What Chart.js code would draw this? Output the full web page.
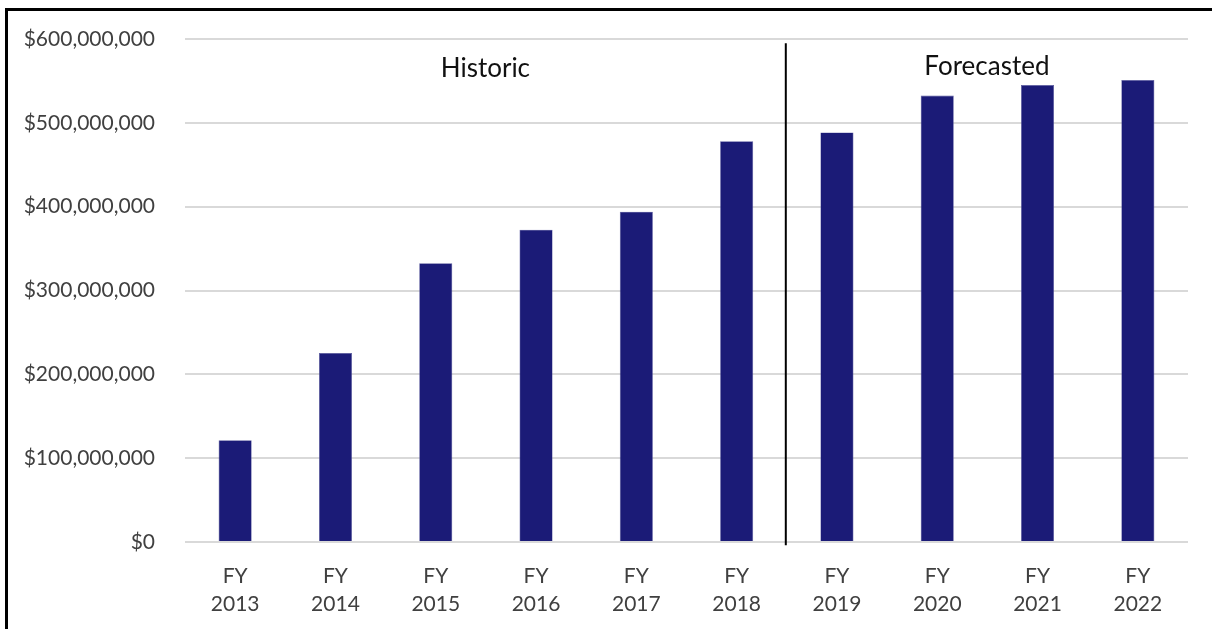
<!DOCTYPE html>
<html>
<head>
<meta charset="utf-8">
<script src="https://cdn.jsdelivr.net/npm/chart.js@4/dist/chart.umd.min.js"></script>
<style>
  html, body { margin: 0; padding: 0; background: #fff; }
  .frame { position: absolute; left: 5px; top: 8px; right: 0; bottom: 0;
           border-top: 3px solid #000; border-left: 3px solid #000; }
  .chart-container { position: absolute; left: 0; top: 0; width: 1212px; height: 629px; }
</style>
</head>
<body>
<div class="frame"></div>
<div class="chart-container">
  <canvas id="ctx" width="1212" height="629"></canvas>
</div>
<script>
const fiscalYears = ['2013', '2014', '2015', '2016', '2017', '2018', '2019', '2020', '2021', '2022'];
const revenue = [121500000, 225500000, 332500000, 372500000, 394000000, 478000000, 488500000, 532500000, 545000000, 551000000];
const yTicks = [0, 100000000, 200000000, 300000000, 400000000, 500000000, 600000000];
const periodLabels = ['Historic', 'Forecasted'];
const lastHistoricIndex = 5;

const labelFont = 'Lato, "Open Sans", sans-serif';

// draws the historic / forecast divider and the two section titles
const periodPlugin = {
  id: 'periods',
  afterDatasetsDraw(chart) {
    const { ctx, scales: { x, y }, chartArea } = chart;
    const splitX = x.getPixelForValue(lastHistoricIndex + 0.5) - 1;
    ctx.save();
    ctx.strokeStyle = '#000';
    ctx.lineWidth = 2;
    ctx.beginPath();
    ctx.moveTo(splitX, y.getPixelForValue(595000000));
    ctx.lineTo(splitX, y.getPixelForValue(-4000000));
    ctx.stroke();

    ctx.fillStyle = '#111';
    ctx.font = '26px ' + labelFont;
    ctx.textAlign = 'center';
    ctx.textBaseline = 'middle';
    const textY = y.getPixelForValue(565000000);
    ctx.fillText(periodLabels[0], (chartArea.left + splitX) / 2, textY);
    ctx.fillText(periodLabels[1], (splitX + chartArea.right) / 2, textY - 2);
    ctx.restore();
  }
};

new Chart(document.getElementById('ctx'), {
  type: 'bar',
  data: {
    labels: fiscalYears.map(yr => ['FY', yr]),
    datasets: [{
      data: revenue,
      backgroundColor: '#1b1b77',
      borderColor: '#5a5a9e',
      borderWidth: 0.6,
      barPercentage: 0.33,
      categoryPercentage: 1.0,
    }],
  },
  options: {
    responsive: false,
    animation: false,
    layout: { padding: { left: 0, right: 24, top: 39, bottom: 0 } },
    plugins: {
      legend: { display: false },
      tooltip: { enabled: false },
    },
    scales: {
      x: {
        grid: { display: false },
        border: { display: false },
        ticks: {
          color: '#404040',
          font: { family: labelFont, size: 21, lineHeight: 1.3 },
          padding: 13,
          maxRotation: 0,
        },
        afterFit(scale) { scale.height = 87; },
      },
      y: {
        min: 0,
        max: 600000000,
        border: { display: false },
        grid: { color: '#d9d9d9', lineWidth: 2, drawTicks: false },
        afterBuildTicks(scale) { scale.ticks = yTicks.map(v => ({ value: v })); },
        ticks: {
          color: '#404040',
          font: { family: labelFont, size: 21 },
          padding: 30,
          callback: (v) => '$' + Number(v).toLocaleString('en-US'),
        },
        afterFit(scale) {
          scale.width = 185;
          // tick padding is horizontal only here, keep it out of the vertical overhang
          scale.paddingTop = 13;
          scale.paddingBottom = 13;
        },
      },
    },
  },
  plugins: [periodPlugin],
});
</script>
</body>
</html>
